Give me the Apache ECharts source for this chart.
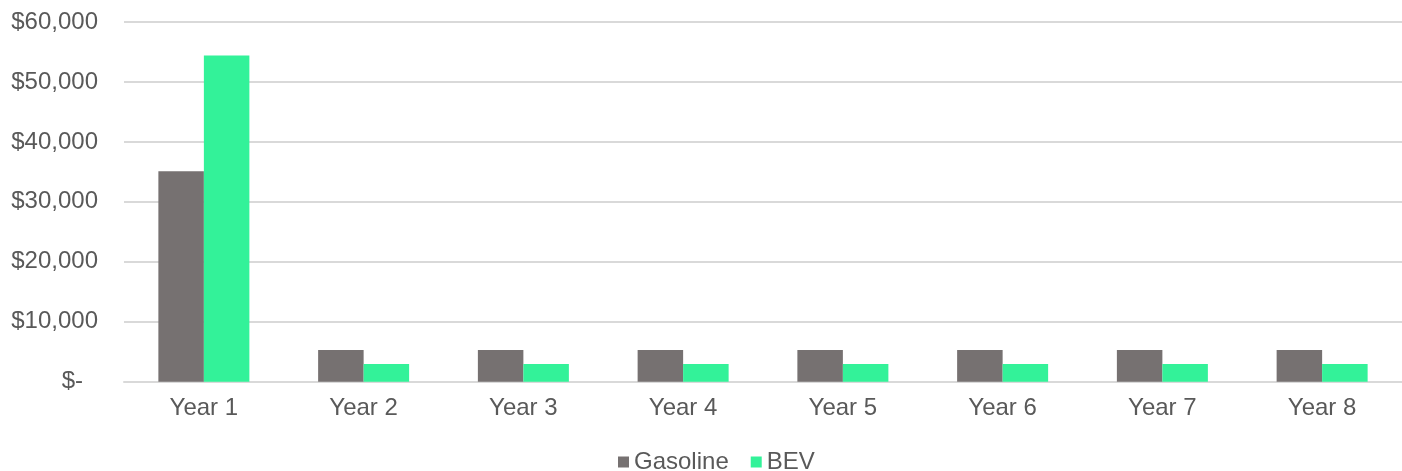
<!DOCTYPE html>
<html><head><meta charset="utf-8">
<script src="https://cdn.jsdelivr.net/npm/echarts@6/dist/echarts.min.js"></script>
<style>html,body{margin:0;padding:0;background:#fff}#c{width:1402px;height:471px}</style>
</head><body><div id="c"></div>
<script>
const categories = ['Year 1','Year 2','Year 3','Year 4','Year 5','Year 6','Year 7','Year 8'];
const gasoline = [35100, 5300, 5300, 5300, 5300, 5300, 5300, 5300];
const bev = [54400, 2950, 2950, 2950, 2950, 2950, 2950, 2950];
const seriesNames = ['Gasoline', 'BEV'];

const font = 'Liberation Sans, Arial, sans-serif';
const fs = 24;
const chart = echarts.init(document.getElementById('c'), null, {renderer:'canvas'});
chart.setOption({
  animation: false,
  grid: {left: 124, top: 22, width: 1283, height: 359.7},
  legend: {
    data: seriesNames, left: 613, top: 445, icon: 'rect', itemWidth: 11, itemHeight: 11,
    itemGap: 22, textStyle: {fontFamily: font, fontSize: fs, color: '#595959'}
  },
  xAxis: {
    type: 'category', data: categories,
    axisLine: {lineStyle: {color: '#d9d9d9', width: 2}},
    axisTick: {show: false},
    axisLabel: {fontFamily: font, fontSize: fs, color: '#595959', margin: 15}
  },
  yAxis: {
    type: 'value', min: 0, max: 60000, interval: 10000,
    axisLine: {show: false}, axisTick: {show: false},
    splitLine: {lineStyle: {color: '#d9d9d9', width: 2}},
    axisLabel: {
      fontFamily: font, fontSize: fs, color: '#595959', margin: 26,
      formatter: v => v === 0 ? '{z|$-}' : '$' + v.toLocaleString('en-US'),
      rich: {z: {fontFamily: font, fontSize: fs, color: '#595959', padding: [0, 15, 0, 0]}}
    }
  },
  series: [
    {name: seriesNames[0], type: 'bar', data: gasoline, barWidth: 45.5, barGap: '0%', itemStyle: {color: '#767171'}},
    {name: seriesNames[1], type: 'bar', data: bev, barWidth: 45.5, barGap: '0%', itemStyle: {color: '#33F299'}}
  ]
});
</script></body></html>
